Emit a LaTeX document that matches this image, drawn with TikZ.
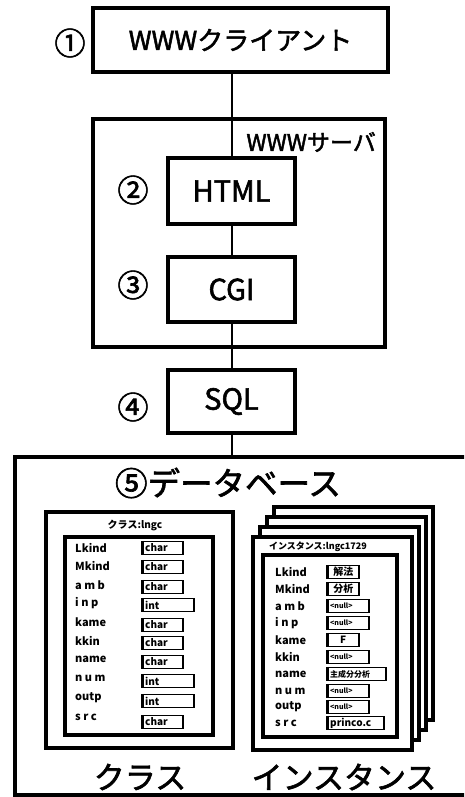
\documentclass[tikz,border=0pt]{standalone}
\usepackage{fontspec}
\setmainfont{Noto Sans CJK JP}
\newfontfamily\medfont{Noto Sans CJK JP}[FakeBold=2]
\begin{document}
\begin{tikzpicture}[x=1pt,y=-1pt,
  box/.style={draw, line width=4.5pt, inner sep=0pt},
  pbox/.style={draw, line width=3.5pt, inner sep=0pt},
  conn/.style={line width=2pt},
  circnum/.style={font=\medfont\fontsize{31}{31}\selectfont, inner sep=0pt},
  bigtxt/.style={inner sep=0pt},
  lbl/.style={anchor=west, inner sep=0pt, font=\bfseries\fontsize{11}{11}\selectfont},
  valbox/.style={draw, line width=1.5pt, inner sep=0pt, minimum height=13pt, anchor=west},
  valtxt/.style={inner sep=0pt, font=\bfseries\fontsize{10}{10}\selectfont}]
\useasboundingbox (0,0) rectangle (464,797);
\clip (0,0) rectangle (464,797);
\fill[white] (0,0) rectangle (464,797);

% top chain
\node[box, minimum width=295pt, minimum height=64pt, font=\medfont\fontsize{26}{26}\selectfont] (client) at (240.5,40) {WWWクライアント};
\node[circnum] (n1) at (70,43) {①};

\node[box, minimum width=292pt, minimum height=228pt] (server) at (239,233) {};
\node[anchor=east, inner sep=0pt, font=\medfont\fontsize{23}{23}\selectfont] (srvlabel) at (376,142) {WWWサーバ};

\node[box, fill=white, minimum width=127pt, minimum height=66pt, font=\medfont\fontsize{29}{29}\selectfont] (html) at (231.5,191) {HTML};
\node[circnum] (n2) at (133,190) {②};
\node[box, fill=white, minimum width=127pt, minimum height=65pt, font=\medfont\fontsize{29}{29}\selectfont] (cgi) at (231.5,289.5) {CGI};
\node[circnum] (n3) at (133,285) {③};
\node[box, fill=white, minimum width=127pt, minimum height=63pt, font=\medfont\fontsize{29}{29}\selectfont] (sql) at (231.5,401.5) {SQL};
\node[circnum] (n4) at (133,407) {④};

% database
\node[inner sep=0pt, minimum width=460pt, minimum height=338pt] (db) at (245,626) {};
\draw[line width=4.5pt] (db.north east) -- (db.north west) -- (db.south west) -- (db.south east);
\node[inner sep=0pt, font=\medfont\fontsize{32.5}{32.5}\selectfont] (dbtitle) at (228,483) {⑤データベース};

% connectors
\draw[conn] (html.north) -- (html.north |- client.south);
\draw[conn] (cgi.north) -- (html.south);
\draw[conn] (cgi.south) -- (sql.north);
\draw[conn] (sql.south) -- (sql.south |- db.north);

% class panel
\node[pbox, minimum width=187pt, minimum height=236pt] (clsouter) at (139.5,630) {};
\node[inner sep=0pt, font=\bfseries\fontsize{10}{10}\selectfont] (clstitle) at (135,525) {クラス:lngc};
\node[pbox, minimum width=148pt, minimum height=198pt] (clsinner) at (139,636) {};
\foreach \lab/\typ/\w/\ly/\vy [count=\i] in {Lkind/char/40/548/548, Mkind/char/40/566/567, a m b/char/40/585/587, i n p/int/51/603/605, kame/char/40/622/625, kkin/char/40/641/643, name/char/40/659/662, n u m/int/51/678/681, outp/int/51/698/701, s r c/char/40/717/722}{
  \node[lbl] (cl\i) at (75,\ly) {\lab};
  \node[valbox, minimum width=\w pt] (cv\i) at (142,\vy) {};
  \draw[line width=3pt] (cv\i.north west) -- (cv\i.south west);
  \node[valtxt, anchor=west] (ct\i) at ([xshift=3pt]cv\i.west) {\typ};
}

% instance panel
\foreach \k in {3,2,1}{
  \node[pbox, fill=white, minimum width=159pt, minimum height=213pt] (pg\k) at ({332.5+7*\k},{643.5-10*\k}) {};
}
\node[pbox, fill=white, minimum width=159pt, minimum height=213pt] (pg0) at (332.5,643.5) {};
\node[inner sep=0pt, font=\bfseries\fontsize{9}{9}\selectfont] (insttitle) at (318,547) {インスタンス:lngc1729};
\node[pbox, minimum width=134pt, minimum height=182pt] (instinner) at (330,646) {};
\foreach \lab/\val/\w/\al/\xs/\y [count=\i] in {Lkind/{\fontsize{10}{10}\selectfont 解法}/31/center/0/572, Mkind/{\fontsize{10}{10}\selectfont 分析}/31/center/0/589, a m b/{\fontsize{7}{7}\selectfont <null>}/41/west/3/606, i n p/{\fontsize{7}{7}\selectfont <null>}/41/west/3/623, kame/{\fontsize{10}{10}\selectfont F}/31/center/0/640, kkin/{\fontsize{7}{7}\selectfont <null>}/41/west/3/657, name/{\fontsize{8}{8}\selectfont 主成分分析}/58/west/3/674, n u m/{\fontsize{7}{7}\selectfont <null>}/41/west/3/691, outp/{\fontsize{7}{7}\selectfont <null>}/41/west/3/707, s r c/{\fontsize{10}{10}\selectfont princo.c}/56/west/3/723}{
  \node[lbl] (il\i) at (275,\y) {\lab};
  \node[valbox, minimum width=\w pt] (iv\i) at (327,\y) {};
  \draw[line width=3pt] (iv\i.north west) -- (iv\i.south west);
  \node[valtxt, anchor=\al] (it\i) at ([xshift=\xs pt]iv\i.\al) {\val};
}

% bottom labels
\node[bigtxt, font=\medfont\fontsize{31}{31}\selectfont] (clslabel) at (140,777) {クラス};
\node[bigtxt, font=\medfont\fontsize{31}{31}\selectfont] (instlabel) at (344,777) {インスタンス};
\end{tikzpicture}
\end{document}
